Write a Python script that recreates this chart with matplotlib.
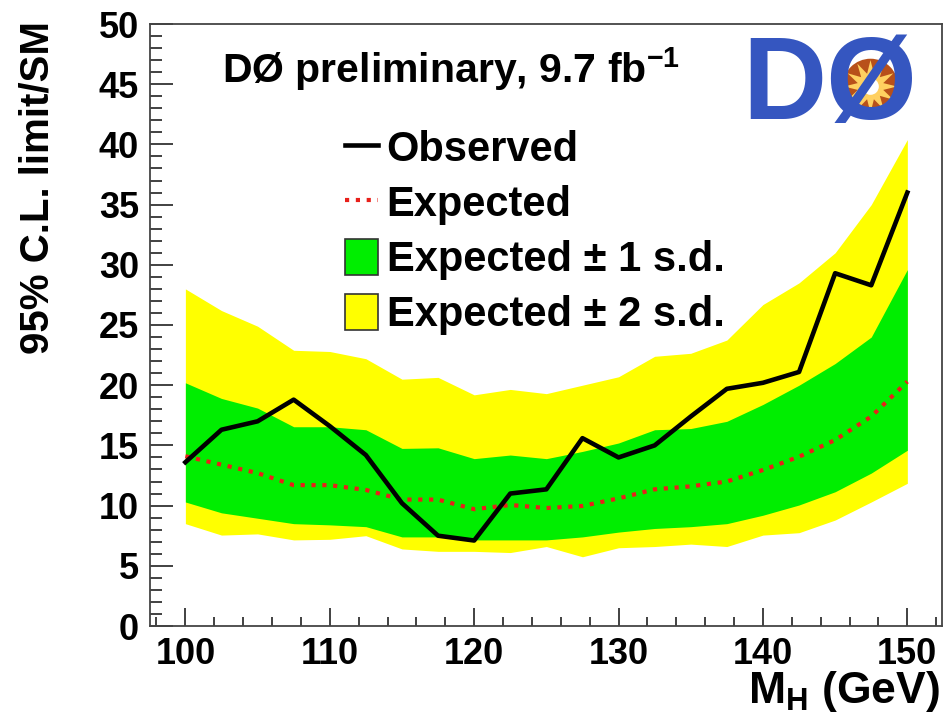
import numpy as np
import matplotlib
matplotlib.use("Agg")
import matplotlib.pyplot as plt
from matplotlib.lines import Line2D
from matplotlib.patches import Patch
from matplotlib.ticker import MultipleLocator

plt.rcParams['font.family'] = ['Liberation Sans', 'DejaVu Sans']
plt.rcParams['font.weight'] = 'bold'
plt.rcParams['axes.labelweight'] = 'bold'
plt.rcParams['mathtext.fontset'] = 'custom'
plt.rcParams['mathtext.rm'] = 'Liberation Sans:bold'
plt.rcParams['mathtext.bf'] = 'Liberation Sans:bold'
plt.rcParams['mathtext.it'] = 'Liberation Sans:bold'
plt.rcParams['mathtext.default'] = 'bf'

# Higgs mass points (GeV)
mass = [100, 102.5, 105, 107.5, 110, 112.5, 115, 117.5, 120, 122.5, 125,
        127.5, 130, 132.5, 135, 137.5, 140, 142.5, 145, 147.5, 150]

observed = [13.6, 16.3, 17.0, 18.8, 16.6, 14.2, 10.2, 7.5, 7.1, 11.0, 11.35,
            15.6, 14.0, 15.0, 17.4, 19.7, 20.2, 21.1, 29.3, 28.3, 36.0]
expected = [14.1, 13.4, 12.7, 11.7, 11.7, 11.3, 10.5, 10.5, 9.7, 10.05, 9.8,
            9.97, 10.6, 11.35, 11.6, 12.0, 12.96, 14.06, 15.45, 17.4, 20.3]

sd1_up = [20.2, 18.9, 18.1, 16.55, 16.55, 16.3, 14.75, 14.8, 13.9, 14.2, 13.9,
          14.5, 15.2, 16.3, 16.4, 17.0, 18.4, 20.0, 21.8, 24.0, 29.6]
sd1_dn = [10.3, 9.4, 8.95, 8.5, 8.4, 8.25, 7.4, 7.4, 7.15, 7.15, 7.15,
          7.4, 7.8, 8.1, 8.25, 8.5, 9.2, 10.05, 11.15, 12.7, 14.6]
sd2_up = [28.0, 26.2, 24.9, 22.9, 22.8, 22.2, 20.5, 20.65, 19.2, 19.65, 19.3,
          20.0, 20.7, 22.4, 22.65, 23.75, 26.7, 28.5, 31.0, 35.0, 40.4]
sd2_dn = [8.5, 7.55, 7.65, 7.15, 7.2, 7.5, 6.4, 6.2, 6.2, 6.1, 6.6,
          5.75, 6.5, 6.6, 6.8, 6.6, 7.55, 7.75, 8.8, 10.3, 11.85]

fig = plt.figure(figsize=(9.45, 7.17), dpi=100)
ax = fig.add_axes([150/945, 1-626/717, 792/945, 602/717])

ax.fill_between(mass, sd2_dn, sd2_up, color='#ffff00', lw=0)
ax.fill_between(mass, sd1_dn, sd1_up, color='#00ee00', lw=0)
ax.plot(mass, expected, color='#e8201a', lw=3, ls=(0, (1, 1.6)))
ax.plot(mass, observed, color='black', lw=3.3)

ax.set_xlim(97.55, 152.4)
ax.set_ylim(0, 50)
ax.xaxis.set_major_locator(MultipleLocator(10))
ax.xaxis.set_minor_locator(MultipleLocator(2))
ax.yaxis.set_major_locator(MultipleLocator(5))
ax.yaxis.set_minor_locator(MultipleLocator(1))
ax.tick_params(axis='both', which='both', direction='in', top=False, right=False,
               labelsize=26, color='#333333', width=1.3)
ax.tick_params(axis='x', which='major', length=13, pad=8)
ax.tick_params(axis='x', which='minor', length=6.5)
ax.tick_params(axis='y', which='major', length=16.5, pad=8)
ax.tick_params(axis='y', which='minor', length=8.5)
for s in ax.spines.values():
    s.set_color('#444444')
    s.set_linewidth(1.3)

ax.set_ylabel('95% C.L. limit/SM', fontsize=29, loc='top')
ax.yaxis.set_label_coords(-0.118, 1.005)
ax.set_xlabel('M$_{H}$ (GeV)', fontsize=32, loc='right')
ax.xaxis.set_label_coords(0.998, -0.072)

ax.text(0.091, 0.902, 'DØ preliminary, 9.7 fb$^{-1}$', transform=ax.transAxes,
        fontsize=29.5, va='baseline', ha='left')

handles = [Line2D([], [], color='black', lw=3.3),
           Line2D([], [], color='#e8201a', lw=3, ls=(0, (1, 1.6))),
           Patch(facecolor='#00ee00', edgecolor='#333333', lw=1.2),
           Patch(facecolor='#ffff00', edgecolor='#333333', lw=1.2)]
labels = ['Observed', 'Expected', 'Expected ± 1 s.d.', 'Expected ± 2 s.d.']
ax.legend(handles, labels, loc='upper left', bbox_to_anchor=(345/945, 1-129/717),
          bbox_transform=fig.transFigure, frameon=False, fontsize=30,
          handlelength=0.8, handleheight=0.95, handletextpad=0.2,
          labelspacing=0.33, borderpad=0, borderaxespad=0)

# rough DØ logo
logo = fig.add_axes([735/945, 1-137/717, 190/945, 102/717])
logo.set_axis_off()
logo.set_xlim(0, 1)
logo.set_ylim(0, 1)
logo.text(0.5, 0.48, 'DØ', fontsize=84, color='#3556c0', ha='center', va='center',
          fontweight='heavy')
logo.plot([0.71], [0.5], marker='o', ms=40, color='#b8501a', mec='none')
logo.plot([0.71], [0.5], marker=(12, 1, 0), ms=38, color='#ffd060', mec='none')
logo.plot([0.71], [0.5], marker='o', ms=12, color='white', mec='none')

fig.savefig('out.png', dpi=100)
